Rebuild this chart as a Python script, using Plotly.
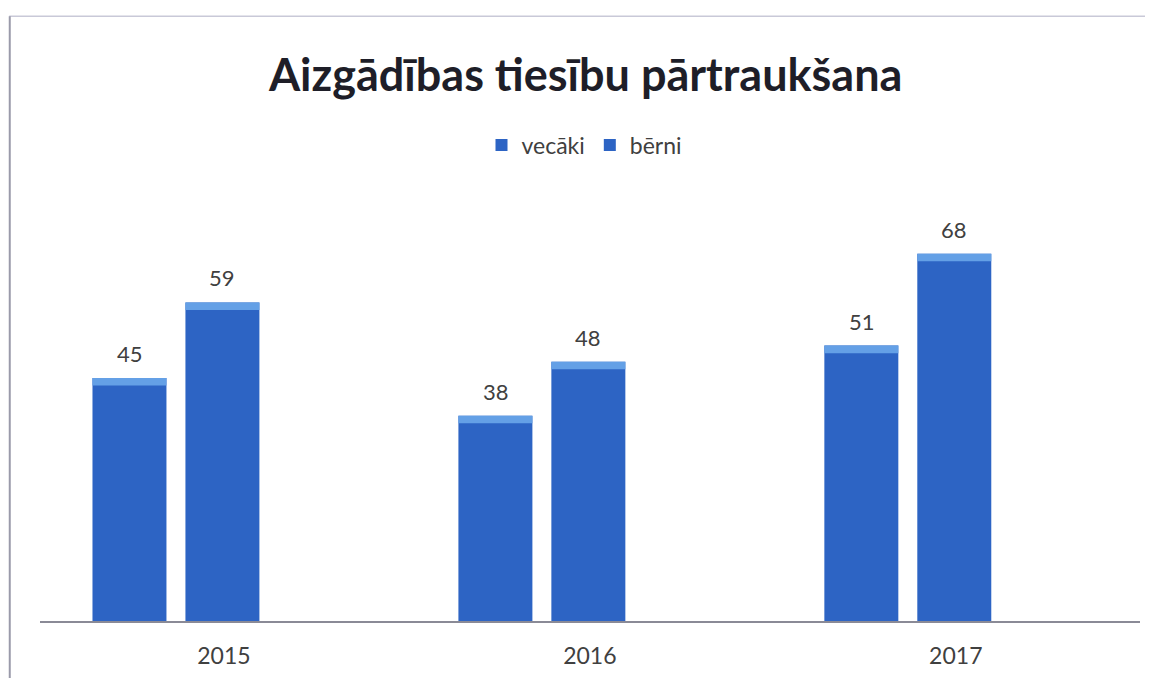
import plotly.graph_objects as go

years = ['2015', '2016', '2017']
vecaki = [45, 38, 51]
berni = [59, 48, 68]

series_names = ['vecāki', 'bērni']
series_values = [vecaki, berni]

bar_color = '#2D64C4'
cap_color = '#64A0E6'
text_color = '#404040'
font_family = 'Lato, Carlito, Calibri, sans-serif'
cap = 1.4  # height of the lighter bevel strip, in data units

fig = go.Figure()

for i, (name, vals) in enumerate(zip(series_names, series_values)):
    fig.add_trace(go.Bar(
        x=years, y=vals, name=name, offsetgroup=str(i),
        marker=dict(color=bar_color, line=dict(width=0)),
        hoverinfo='y',
    ))
    # lighter strip at the top, imitates the bevel of the original
    fig.add_trace(go.Bar(
        x=years, y=[cap] * len(vals), base=[v - cap for v in vals],
        offsetgroup=str(i), showlegend=False,
        marker=dict(color=cap_color, line=dict(width=0)),
        hoverinfo='skip',
    ))

# value labels above the bars (category axis -> x given as serial number)
for i, vals in enumerate(series_values):
    shift = -46 if i == 0 else 46
    for j, v in enumerate(vals):
        fig.add_annotation(
            x=j, y=v, text=str(v), showarrow=False,
            xshift=shift, yshift=9, yanchor='bottom',
            font=dict(size=22, color=text_color, family=font_family),
        )

# page body has an 8px margin, so margins are set 8px smaller on top/left
fig.update_layout(
    width=1153, height=678,
    margin=dict(l=32, r=21, t=181, b=65, autoexpand=False),
    paper_bgcolor='white', plot_bgcolor='white',
    barmode='group', bargap=0.492, bargroupgap=0.204,
    title=dict(
        text='<b>Aizgādības tiesību pārtraukšana</b>',
        x=0.501, xanchor='center', y=0.901, yanchor='middle',
        font=dict(size=45, color='#1E1E28', family=font_family),
    ),
    legend=dict(
        orientation='h', x=0.495, xanchor='center',
        yref='container', y=0.798, yanchor='middle',
        font=dict(size=23, color=text_color, family=font_family),
        itemwidth=30, bgcolor='rgba(0,0,0,0)',
    ),
    showlegend=True,
)

fig.update_xaxes(
    type='category', range=[-0.3715, 2.6345], automargin=False,
    showline=True, linecolor='#8A8A96', linewidth=1.5,
    ticks='', ticklabelstandoff=14, ticklabelshift=48,
    tickfont=dict(size=23, color=text_color, family=font_family),
    showgrid=False, zeroline=False,
)
fig.update_yaxes(
    range=[0, 80], visible=False, showgrid=False, zeroline=False,
    automargin=False,
)

# frame of the scanned chart (top and left edges)
fig.add_shape(type='line', xref='paper', yref='paper',
              x0=-0.028, x1=1.02, y0=1.400, y1=1.400,
              line=dict(color='#C9C9D8', width=1.5))
fig.add_shape(type='line', xref='paper', yref='paper',
              x0=-0.0275, x1=-0.0275, y0=1.400, y1=-0.2,
              line=dict(color='#9A9AAA', width=2))

fig.write_html('out.html')
